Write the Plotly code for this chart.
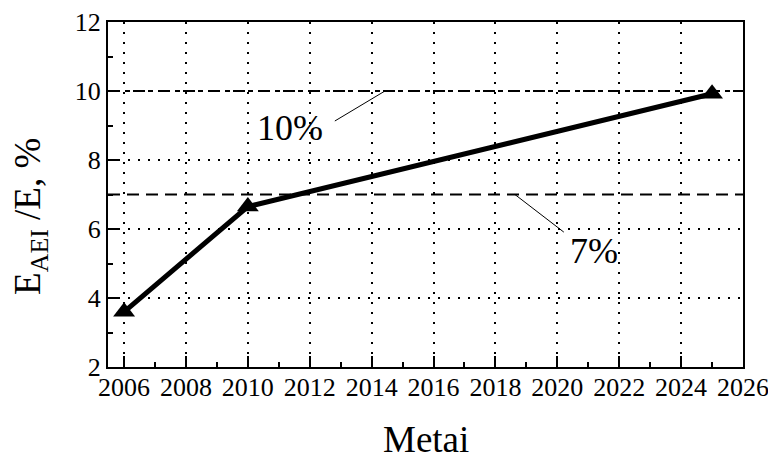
import plotly.graph_objects as go

# Data
years = [2006, 2010, 2025]
share = [3.6, 6.65, 9.92]
target_levels = [10, 7]
target_labels = ["10%", "7%"]
x_ticks = [2006, 2008, 2010, 2012, 2014, 2016, 2018, 2020, 2022, 2024, 2026]
y_ticks = [2, 4, 6, 8, 10, 12]

FONT = "Liberation Serif"

fig = go.Figure()
fig.add_trace(go.Scatter(
    x=years, y=share, mode="lines+markers",
    line=dict(color="black", width=5),
    marker=dict(symbol="triangle-up", size=19, color="black"),
    showlegend=False, cliponaxis=False,
))

# reference level lines
fig.add_shape(type="line", xref="paper", x0=0, x1=1, yref="y", y0=target_levels[0], y1=target_levels[0],
              line=dict(color="black", width=2, dash="12px,5px,3px,5px"))
fig.add_shape(type="line", xref="paper", x0=0, x1=1, yref="y", y0=target_levels[1], y1=target_levels[1],
              line=dict(color="black", width=2, dash="12px,7px"))

# leader lines
fig.add_shape(type="line", x0=2012.81, y0=9.13, x1=2014.43, y1=10.0, line=dict(color="black", width=1))
fig.add_shape(type="line", x0=2018.63, y0=7.0, x1=2020.21, y1=5.91, line=dict(color="black", width=1))

fig.add_annotation(x=2011.36, y=8.93, text=target_labels[0], showarrow=False,
                   font=dict(family=FONT, size=36, color="black"))
fig.add_annotation(x=2021.18, y=5.36, text=target_labels[1], showarrow=False,
                   font=dict(family=FONT, size=36, color="black"))

# axis titles
fig.add_annotation(xref="paper", yref="paper", x=0.5, y=0, yshift=-72, text="Metai",
                   showarrow=False, yanchor="middle", font=dict(family=FONT, size=37, color="black"))
fig.add_annotation(xref="paper", yref="paper", x=0, xshift=-77, y=0.435, text="E<sub>AEI</sub> /E, %",
                   textangle=-90, showarrow=False, xanchor="center", yanchor="middle",
                   font=dict(family=FONT, size=37, color="black"))

axis_common = dict(
    showline=True, linecolor="black", linewidth=2, mirror=True,
    ticks="inside", ticklen=11, tickwidth=2, tickcolor="black",
    showgrid=True, gridcolor="black", gridwidth=1.5, griddash="2px,8px",
    zeroline=False, automargin=False,
    tickfont=dict(family=FONT, size=26, color="black"),
)

fig.update_xaxes(range=[2005.48, 2026], tickmode="array", tickvals=x_ticks,
                 minor=dict(dtick=1, tick0=2005, ticks="inside", ticklen=5, tickwidth=2, tickcolor="black", showgrid=False),
                 ticklabelstandoff=-4, **axis_common)
fig.update_yaxes(range=[2, 12], tickmode="array", tickvals=y_ticks,
                 minor=dict(dtick=1, tick0=1, ticks="inside", ticklen=5, tickwidth=2, tickcolor="black", showgrid=False),
                 ticklabelstandoff=0, **axis_common)

# page has an 8px body margin, so the figure is sized/offset to compensate
fig.update_layout(
    width=768, height=451,
    margin=dict(l=100, r=33, t=14, b=92, autoexpand=False),
    paper_bgcolor="white", plot_bgcolor="white",
    font=dict(family=FONT, color="black"),
)

fig.write_html("out.html")
